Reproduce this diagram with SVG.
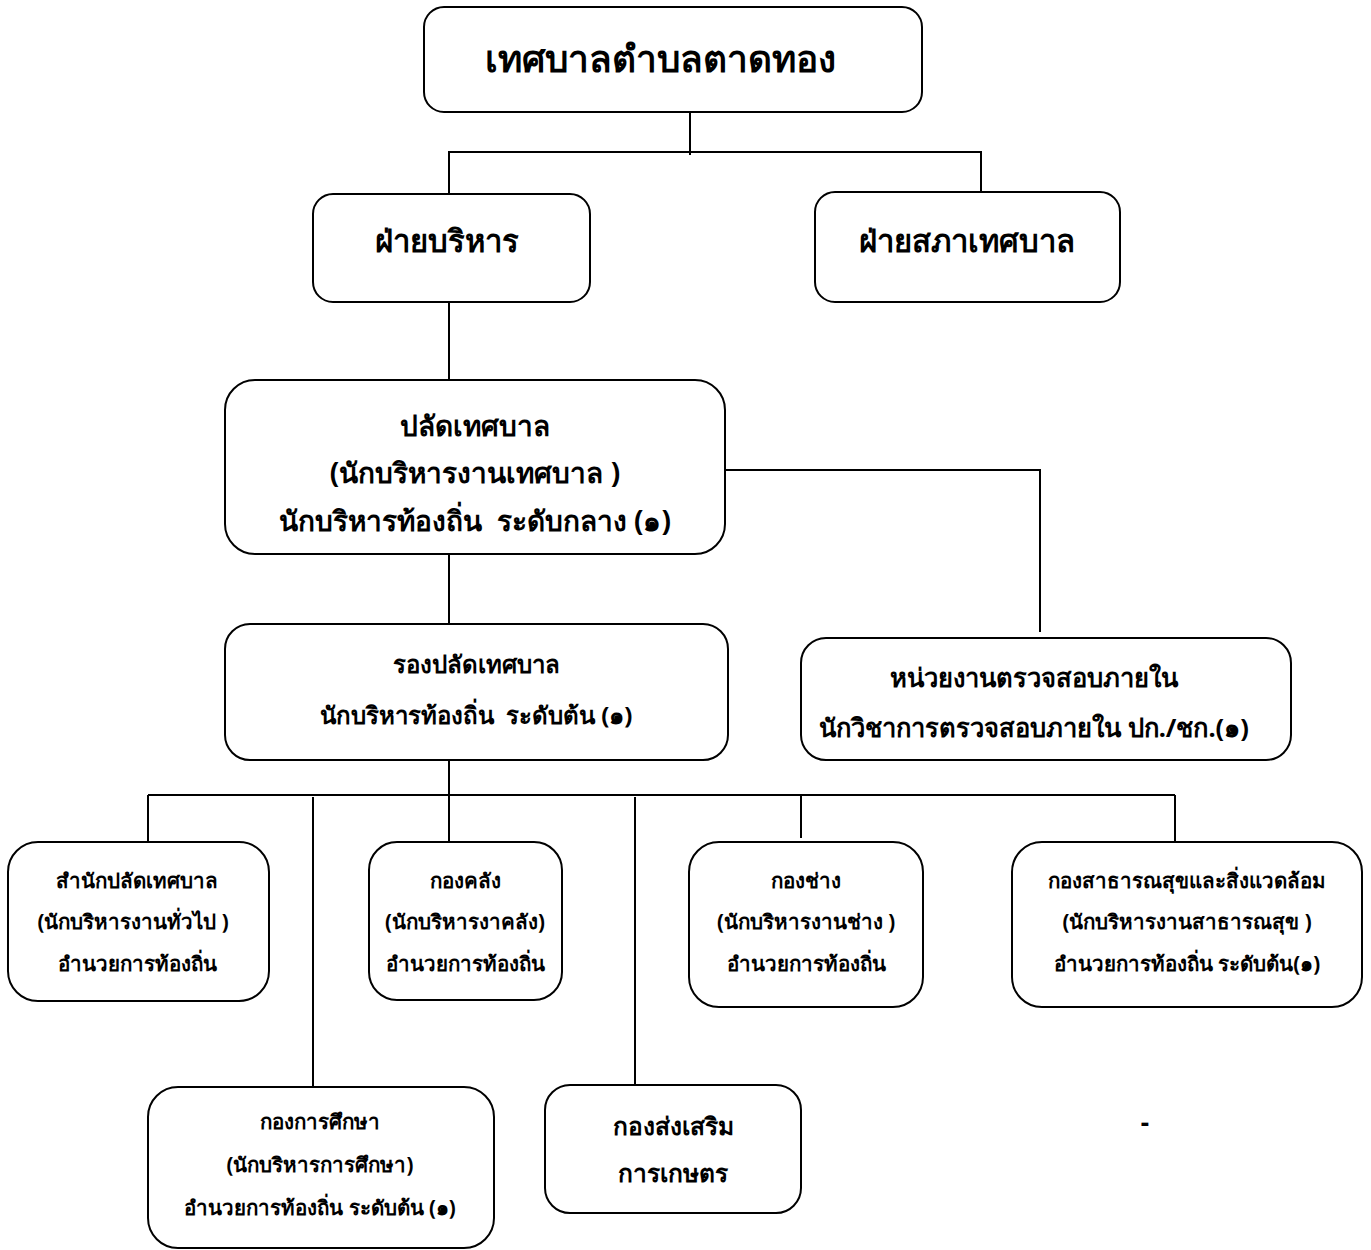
<svg xmlns="http://www.w3.org/2000/svg" width="1371" height="1250" viewBox="0 0 1371 1250">
<style>
.box{fill:#fff;stroke:#000;stroke-width:2}
.ln{stroke:#000;stroke-width:2;fill:none}
text{font-family:"Noto Sans","DejaVu Sans",sans-serif;font-weight:bold;fill:#000;text-anchor:middle;dominant-baseline:central;white-space:pre}
.s{font-size:20.5px}
</style>
<rect width="1371" height="1250" fill="#fff"/>
<g id="connectors">
<path class="ln" d="M690 112V155M449 194V152H981V192"/>
<path class="ln" d="M449 302V380"/>
<path class="ln" d="M725 470H1040V632"/>
<path class="ln" d="M449 554V624"/>
<path class="ln" d="M449 760V842M148 795H1175M148 795V842M313 797V1087M635 797V1085M801 795V838M1175 795V842"/>
</g>
<g id="n-top"><rect class="box" x="424" y="7" width="498" height="105" rx="20"/><text x="660" y="57" font-size="37">เทศบาลตำบลตาดทอง</text></g>
<g id="n-exec"><rect class="box" x="313" y="194" width="277" height="108" rx="20"/><text x="447" y="240" font-size="31">ฝ่ายบริหาร</text></g>
<g id="n-council"><rect class="box" x="815" y="192" width="305" height="110" rx="20"/><text x="967" y="240" font-size="31">ฝ่ายสภาเทศบาล</text></g>
<g id="n-clerk"><rect class="box" x="225" y="380" width="500" height="174" rx="30"/>
<text x="475" y="425" font-size="28">ปลัดเทศบาล</text>
<text x="475" y="472" font-size="28">(นักบริหารงานเทศบาล )</text>
<text x="475" y="520" font-size="28">นักบริหารท้องถิ่น  ระดับกลาง (๑)</text></g>
<g id="n-deputy"><rect class="box" x="225" y="624" width="503" height="136" rx="25"/>
<text x="476" y="663" font-size="24">รองปลัดเทศบาล</text>
<text x="476" y="714" font-size="24">นักบริหารท้องถิ่น  ระดับต้น (๑)</text></g>
<g id="n-audit"><rect class="box" x="801" y="638" width="490" height="122" rx="25"/>
<text x="1034" y="677" font-size="25.5">หน่วยงานตรวจสอบภายใน</text>
<text x="1034" y="727" font-size="25.5">นักวิชาการตรวจสอบภายใน ปก./ชก.(๑)</text></g>
<g id="n-office"><rect class="box" x="8" y="842" width="261" height="159" rx="30"/>
<text class="s" x="137" y="880">สำนักปลัดเทศบาล</text>
<text class="s" x="133" y="921">(นักบริหารงานทั่วไป )</text>
<text class="s" x="137" y="963">อำนวยการท้องถิ่น</text></g>
<g id="n-finance"><rect class="box" x="369" y="842" width="193" height="158" rx="28"/>
<text class="s" x="465" y="880">กองคลัง</text>
<text class="s" x="465" y="921">(นักบริหารงาคลัง)</text>
<text class="s" x="465" y="963">อำนวยการท้องถิ่น</text></g>
<g id="n-eng"><rect class="box" x="689" y="842" width="234" height="165" rx="30"/>
<text class="s" x="806" y="880">กองช่าง</text>
<text class="s" x="806" y="921">(นักบริหารงานช่าง )</text>
<text class="s" x="806" y="963">อำนวยการท้องถิ่น</text></g>
<g id="n-health"><rect class="box" x="1012" y="842" width="350" height="165" rx="30"/>
<text class="s" x="1187" y="880">กองสาธารณสุขและสิ่งแวดล้อม</text>
<text class="s" x="1187" y="921">(นักบริหารงานสาธารณสุข )</text>
<text class="s" x="1187" y="963">อำนวยการท้องถิ่น ระดับต้น(๑)</text></g>
<g id="n-edu"><rect class="box" x="148" y="1087" width="346" height="161" rx="30"/>
<text class="s" x="320" y="1121">กองการศึกษา</text>
<text class="s" x="320" y="1164">(นักบริหารการศึกษา)</text>
<text class="s" x="320" y="1207">อำนวยการท้องถิ่น ระดับต้น (๑)</text></g>
<g id="n-agri"><rect class="box" x="545" y="1085" width="256" height="128" rx="25"/>
<text x="673" y="1125" font-size="24.5">กองส่งเสริม</text>
<text x="673" y="1172" font-size="24.5">การเกษตร</text></g>
<text x="1145" y="1122" font-size="26">-</text>
</svg>
